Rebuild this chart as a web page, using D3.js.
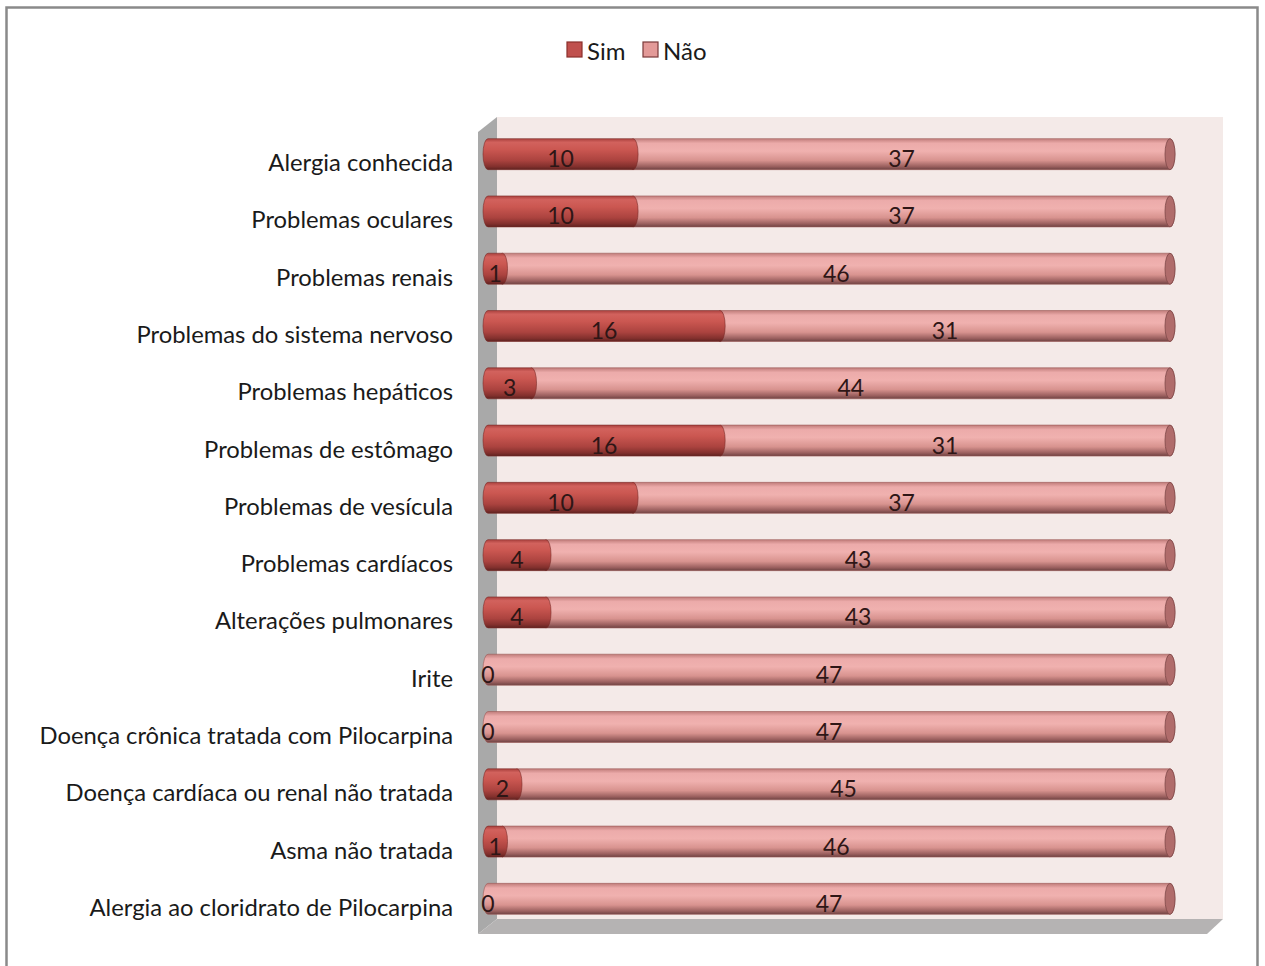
<!DOCTYPE html>
<html>
<head>
<meta charset="utf-8">
<script src="https://cdn.jsdelivr.net/npm/d3@7"></script>
<style>
  html, body { margin: 0; padding: 0; background: #ffffff; }
  svg { display: block; }
  text { font-family: Lato, "Open Sans", sans-serif; }
</style>
</head>
<body>
<script>
// Categories (top to bottom) and stacked values
const categories = [
  "Alergia conhecida",
  "Problemas oculares",
  "Problemas renais",
  "Problemas do sistema nervoso",
  "Problemas hepáticos",
  "Problemas de estômago",
  "Problemas de vesícula",
  "Problemas cardíacos",
  "Alterações pulmonares",
  "Irite",
  "Doença crônica tratada com Pilocarpina",
  "Doença cardíaca ou renal não tratada",
  "Asma não tratada",
  "Alergia ao cloridrato de Pilocarpina"
];
const simValues = [10, 10, 1, 16, 3, 16, 10, 4, 4, 0, 0, 2, 1, 0];
const naoValues = [37, 37, 46, 31, 44, 31, 37, 43, 43, 47, 47, 45, 46, 47];
const seriesNames = ["Sim", "Não"];

const W = 1265, H = 966;
const svg = d3.select("body").append("svg").attr("width", W).attr("height", H);
const defs = svg.append("defs");

// Cylinder shading gradients
function cylGradient(id, stops) {
  const g = defs.append("linearGradient").attr("id", id)
    .attr("x1", 0).attr("y1", 0).attr("x2", 0).attr("y2", 1);
  stops.forEach(([o, c]) => g.append("stop").attr("offset", o).attr("stop-color", c));
}
cylGradient("gSim", [[0, "#a9403d"], [0.12, "#d2625d"], [0.35, "#cb5751"], [0.7, "#ab433f"], [0.9, "#82302d"], [1, "#5e2220"]]);
cylGradient("gNao", [[0, "#c07c7a"], [0.15, "#ecabaa"], [0.4, "#f0b1af"], [0.7, "#d8938f"], [0.9, "#9a5f5e"], [1, "#6e4242"]]);

// Outer frame
svg.append("rect").attr("x", 6.5).attr("y", 7.5).attr("width", 1251).attr("height", 980)
  .attr("fill", "#ffffff").attr("stroke", "#8a8a8a").attr("stroke-width", 2.5);

// Scales
const x = d3.scaleLinear().domain([0, 47]).range([488, 1170]);
const y = d3.scaleBand().domain(categories).range([126.5, 928.5]).padding(0);
const barH = 31;
const rx = 5;
const depthX = 19;

// 3D walls: back wall, left wall, floor
const wallTop = 117, wallBottom = 919, backLeft = 497, backRight = 1223;
svg.append("rect").attr("x", backLeft).attr("y", wallTop)
  .attr("width", backRight - backLeft).attr("height", wallBottom - wallTop)
  .attr("fill", "#f4eae8");
svg.append("path")
  .attr("d", `M${backLeft - depthX},${wallTop + 15} L${backLeft},${wallTop} L${backLeft},${wallBottom} L${backLeft - depthX},${wallBottom + 15} Z`)
  .attr("fill", "#a9a9a9");
svg.append("path")
  .attr("d", `M${backLeft - depthX},${wallBottom + 15} L${backLeft},${wallBottom} L${backRight},${wallBottom} L${backRight - 16},${wallBottom + 15} Z`)
  .attr("fill", "#b5b3b3");

// Rows
const rows = categories.map((c, i) => ({ cat: c, sim: simValues[i], nao: naoValues[i] }));

function segPath(x0, x1, yc) {
  const t = yc - barH / 2, b = yc + barH / 2, ry = barH / 2;
  return `M${x0},${t} L${x1},${t} A${rx},${ry} 0 0 1 ${x1},${b} L${x0},${b} A${rx},${ry} 0 0 1 ${x0},${t} Z`;
}

const g = svg.append("g");
rows.forEach(r => {
  const yc = y(r.cat) + y.bandwidth() / 2 - 1;
  const xs0 = x(0), xs1 = x(r.sim), xn1 = x(r.sim + r.nao);
  // Não segment (drawn first so Sim overlaps its left end)
  g.append("path").attr("d", segPath(xs1, xn1, yc)).attr("fill", "url(#gNao)")
    .attr("stroke", "#9c5a58").attr("stroke-width", 0.6);
  // End face of the cylinder
  g.append("ellipse").attr("cx", xn1).attr("cy", yc).attr("rx", rx).attr("ry", barH / 2)
    .attr("fill", "#b06c6b").attr("stroke", "#7d4847").attr("stroke-width", 0.8);
  if (r.sim > 0) {
    g.append("path").attr("d", segPath(xs0, xs1, yc)).attr("fill", "url(#gSim)")
      .attr("stroke", "#7a2b29").attr("stroke-width", 0.6);
  }
  // Value labels
  g.append("text").attr("x", (xs0 + xs1) / 2).attr("y", yc + 4)
    .attr("text-anchor", "middle").attr("dominant-baseline", "central")
    .attr("font-size", 23).attr("fill", "#2e1616").text(r.sim);
  g.append("text").attr("x", (xs1 + xn1) / 2).attr("y", yc + 4)
    .attr("text-anchor", "middle").attr("dominant-baseline", "central")
    .attr("font-size", 23).attr("fill", "#2e1616").text(r.nao);
  // Category labels
  g.append("text").attr("x", 453).attr("y", yc + 8)
    .attr("text-anchor", "end").attr("dominant-baseline", "central")
    .attr("font-size", 23.8).attr("fill", "#1a1a1a").text(r.cat);
});

// Legend
const legendItems = [
  { name: seriesNames[0], fill: "#c0504d", stroke: "#8a2f2c", x: 567 },
  { name: seriesNames[1], fill: "#e39a98", stroke: "#7a3a39", x: 643 }
];
legendItems.forEach(d => {
  svg.append("rect").attr("x", d.x).attr("y", 42).attr("width", 15).attr("height", 15)
    .attr("fill", d.fill).attr("stroke", d.stroke).attr("stroke-width", 1.2);
  svg.append("text").attr("x", d.x + 20).attr("y", 50)
    .attr("dominant-baseline", "central").attr("font-size", 24).attr("fill", "#1a1a1a").text(d.name);
});
</script>
</body>
</html>
